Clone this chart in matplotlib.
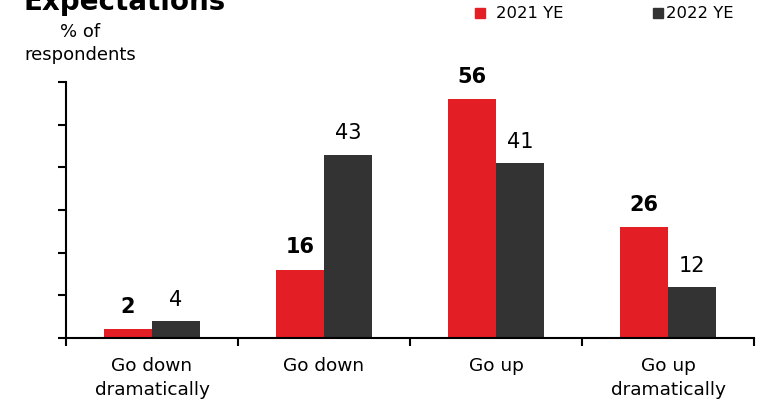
import matplotlib.pyplot as plt
from matplotlib.patches import Rectangle
import numpy as np

categories = ['Go down\ndramatically', 'Go down', 'Go up', 'Go up\ndramatically']
ye2021 = [2, 16, 56, 26]
ye2022 = [4, 43, 41, 12]
series_names = ['2021 YE', '2022 YE']

red = '#E31E24'
dark = '#333333'

plt.rcParams['font.family'] = 'DejaVu Sans'

fig = plt.figure(figsize=(7.69, 4.04), dpi=100)
ax = fig.add_axes([66/769, 66/404, (754-66)/769, (338-82)/404])

x = np.arange(len(categories))
w = 0.28
b1 = ax.bar(x - w/2, ye2021, w, color=red, label=series_names[0])
b2 = ax.bar(x + w/2, ye2022, w, color=dark, label=series_names[1])

# bold labels for 2021, regular for 2022
for xi, v in zip(x, ye2021):
    ax.annotate(str(v), (xi - w/2, v), xytext=(0, 9), textcoords='offset points',
                ha='center', va='bottom', fontsize=15, fontweight='bold')
for xi, v in zip(x, ye2022):
    ax.annotate(str(v), (xi + w/2, v), xytext=(0, 8), textcoords='offset points',
                ha='center', va='bottom', fontsize=15)

ax.set_xlim(-0.5, 3.5)
ax.set_ylim(0, 60)
ax.set_yticks(np.arange(0, 61, 10))
ax.set_yticklabels([])
ax.set_xticks(x)
ax.set_xticklabels(categories, fontsize=13.3, linespacing=1.4)
ax.tick_params(axis='x', length=0, pad=14)
ax.set_xticks(np.arange(-0.5, 3.6, 1), minor=True)
ax.tick_params(axis='x', which='minor', length=6, width=1.5, direction='out')
ax.tick_params(axis='y', length=6, width=1.5, direction='out')
for s in ['top', 'right']:
    ax.spines[s].set_visible(False)
for s in ['left', 'bottom']:
    ax.spines[s].set_linewidth(1.5)

fig.text(24/769, 1 - 10/404, 'Expectations', fontsize=20, fontweight='bold',
         ha='left', va='baseline')
fig.text(80/769, 1 - 32/404, '% of', fontsize=13, ha='center', va='center')
fig.text(80/769, 1 - 55/404, 'respondents', fontsize=13, ha='center', va='center')

# legend drawn by hand: square + label per series
for (sx, tx), name, col in zip([(475, 496), (653, 666)], series_names, [red, dark]):
    fig.add_artist(Rectangle((sx/769, 1 - 18/404), 10/769, 10/404,
                             transform=fig.transFigure, color=col))
    fig.text(tx/769, 1 - 13/404, name, fontsize=11.8, ha='left', va='center')

fig.savefig('out.png', dpi=100)
